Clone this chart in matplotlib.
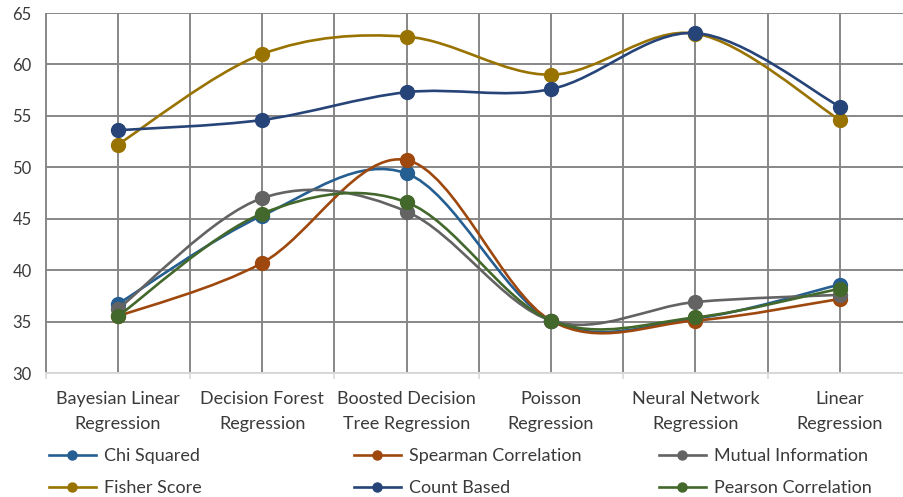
import matplotlib
matplotlib.use("Agg")
import matplotlib.pyplot as plt
from matplotlib.path import Path
from matplotlib.patches import PathPatch
from matplotlib.lines import Line2D

categories = [
    "Bayesian Linear\nRegression",
    "Decision Forest\nRegression",
    "Boosted Decision\nTree Regression",
    "Poisson\nRegression",
    "Neural Network\nRegression",
    "Linear\nRegression",
]

chi_squared = [36.7, 45.3, 49.4, 35.1, 35.3, 38.6]
spearman = [35.5, 40.7, 50.7, 35.1, 35.1, 37.2]
mutual_info = [36.2, 47.0, 45.7, 35.1, 36.9, 37.6]
fisher = [52.2, 61.0, 62.7, 59.0, 63.0, 54.6]
count_based = [53.6, 54.6, 57.3, 57.6, 63.05, 55.9]
pearson = [35.5, 45.5, 46.6, 35.1, 35.4, 38.2]

series = [
    ("Chi Squared", chi_squared, "#255E91"),
    ("Spearman Correlation", spearman, "#9E480E"),
    ("Mutual Information", mutual_info, "#636363"),
    ("Fisher Score", fisher, "#997300"),
    ("Count Based", count_based, "#264478"),
    ("Pearson Correlation", pearson, "#43682B"),
]

plt.rcParams["font.family"] = ["Lato", "DejaVu Sans"]
text_color = "#3A3A3A"
grid_color = "#878787"


def smooth_path(xs, ys, t=1 / 6):
    # Bezier path like Excel's smoothed line
    pts = list(zip(xs, ys))
    n = len(pts)
    verts = [pts[0]]
    codes = [Path.MOVETO]
    for i in range(n - 1):
        p0 = pts[max(i - 1, 0)]
        p1 = pts[i]
        p2 = pts[i + 1]
        p3 = pts[min(i + 2, n - 1)]
        c1 = (p1[0] + (p2[0] - p0[0]) * t, p1[1] + (p2[1] - p0[1]) * t)
        c2 = (p2[0] - (p3[0] - p1[0]) * t, p2[1] - (p3[1] - p1[1]) * t)
        verts += [c1, c2, p2]
        codes += [Path.CURVE4] * 3
    return Path(verts, codes)


fig = plt.figure(figsize=(9.04, 4.97), dpi=100)
left = 45.5 / 904
right = 912 / 904
top = 1 - 13 / 497
bottom = 1 - 373 / 497
ax = fig.add_axes([left, bottom, right - left, top - bottom])

x = list(range(len(categories)))
for k, (name, vals, color) in enumerate(series):
    ax.add_patch(PathPatch(smooth_path(x, vals), fill=False, edgecolor=color,
                           lw=1.9, zorder=3 + k, capstyle="round"))
    ax.plot(x, vals, "o", color=color, ms=10, zorder=3 + k)

ax.set_xlim(-0.5, 5.5)
ax.set_ylim(30, 65)
ax.set_yticks(range(30, 66, 5))
ax.set_xticks(x)
ax.set_xticks([i - 0.5 for i in range(7)], minor=True)
ax.set_xticklabels(categories, fontsize=13, color=text_color, linespacing=1.68)
ax.tick_params(axis="y", length=0, pad=10, labelsize=12, labelcolor=text_color)
ax.tick_params(axis="x", which="major", length=0, pad=13)
ax.tick_params(axis="x", which="minor", length=4, width=1.2, color="#D9D9D9")

ax.grid(True, which="both", axis="x", color=grid_color, lw=1.4, zorder=1)
ax.grid(True, which="major", axis="y", color=grid_color, lw=1.4, zorder=1)
ax.set_axisbelow(True)
for s in ["left", "right", "top"]:
    ax.spines[s].set_visible(False)
ax.spines["bottom"].set_color("#D9D9D9")
ax.spines["bottom"].set_linewidth(1.4)
ax.spines["bottom"].set_zorder(2)

# legend: three columns placed like Excel
col_x = [49 / 904, 354 / 904, 659 / 904]
for c in range(3):
    handles = []
    for name, vals, color in (series[c], series[c + 3]):
        handles.append(Line2D([], [], color=color, lw=1.9, marker="o", ms=6.5,
                              label=name))
    fig.legend(handles=handles, loc="upper left",
               bbox_to_anchor=(col_x[c], 1 - 448 / 497), frameon=False,
               handlelength=2.6, handletextpad=0.45, labelspacing=0.88,
               borderaxespad=0, borderpad=0, fontsize=13,
               labelcolor=text_color)

fig.savefig("out.png", dpi=100)
